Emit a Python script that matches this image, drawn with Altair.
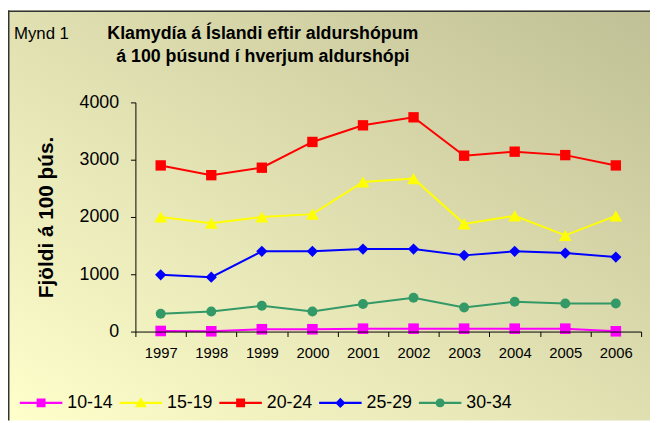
import altair as alt
import pandas as pd

# ---- data ----
years = [1997, 1998, 1999, 2000, 2001, 2002, 2003, 2004, 2005, 2006]
series_names = ["10-14", "15-19", "20-24", "25-29", "30-34"]
v_10_14 = [10, 5, 40, 40, 50, 50, 50, 50, 50, 5]
v_15_19 = [2000, 1890, 2000, 2050, 2610, 2670, 1880, 2020, 1680, 2020]
v_20_24 = [2900, 2730, 2860, 3310, 3600, 3740, 3070, 3140, 3080, 2900]
v_25_29 = [990, 950, 1400, 1400, 1440, 1440, 1330, 1400, 1370, 1300]
v_30_34 = [310, 350, 450, 350, 480, 590, 420, 520, 490, 490]
y_ticks = [0, 1000, 2000, 3000, 4000]

title_line1 = "Klamydía á Íslandi eftir aldurshópum"
title_line2 = "á 100 þúsund í hverjum aldurshópi"
fig_label = "Mynd 1"
y_title = "Fjöldi á 100 þús."

# ---- styles ----
colors = ["#FF00FF", "#FFFF00", "#FF0000", "#0000FF", "#339966"]
marker_shapes = ["square", "triangle-up", "square", "diamond", "circle"]
marker_sizes = [115, 170, 110, 130, 100]
LINE = "M-1,-0.05H1V0.05H-1Z"
legend_paths = [
    LINE + "M-0.21,-0.21H0.21V0.21H-0.21Z",
    LINE + "M0,-0.27L0.28,0.21H-0.28Z",
    LINE + "M-0.21,-0.21H0.21V0.21H-0.21Z",
    LINE + "M-0.24,0L0,-0.24L0.24,0L0,0.24Z",
    LINE + "M-0.21,0A0.21,0.21,0,1,1,0.21,0A0.21,0.21,0,1,1,-0.21,0Z",
]

FONT = "Liberation Sans"
W, H = 512, 232
PAD = {"left": 129, "top": 93, "right": 9, "bottom": 90}

rows = []
for name, vals in zip(series_names, [v_10_14, v_15_19, v_20_24, v_25_29, v_30_34]):
    for yr, v in zip(years, vals):
        rows.append({"year": yr, "series": name, "value": v})
df = pd.DataFrame(rows)
one = pd.DataFrame({"k": [0]})

x_enc = alt.X(
    "year:O",
    bandPosition=0.5,
    scale=alt.Scale(type="band", paddingInner=0, paddingOuter=0),
    axis=alt.Axis(
        title=None, labelAngle=0, tickBand="extent", tickSize=5, labelPadding=9,
        labelFont=FONT, labelFontSize=15, labelColor="black",
        domainColor="black", tickColor="black", grid=False, zindex=1,
    ),
)
y_enc = alt.Y(
    "value:Q",
    scale=alt.Scale(domain=[0, 4000], nice=False),
    axis=alt.Axis(
        values=y_ticks, format="d", title=y_title, grid=False, tickSize=5, labelPadding=12,
        labelFont=FONT, labelFontSize=18, labelColor="black",
        domainColor="black", tickColor="black", zindex=1,
        titleFont=FONT, titleFontSize=21, titleFontWeight="bold", titleColor="black",
        titleAngle=270, titleX=-84, titleY=116, titleAlign="center",
        titleBaseline="alphabetic",
    ),
)
color_scale = alt.Scale(domain=series_names, range=colors)

# background gradient
bg = alt.Chart(one).mark_rect(
    fill=alt.LinearGradient(
        gradient="linear", x1=0, y1=1, x2=1, y2=0,
        stops=[alt.GradientStop(color="#FFFFCC", offset=0),
               alt.GradientStop(color="#C0C096", offset=1)],
    )
).encode(
    x=alt.value(-PAD["left"]), x2=alt.value(W + PAD["right"]),
    y=alt.value(-PAD["top"]), y2=alt.value(H + PAD["bottom"]),
)
frame_left = alt.Chart(one).mark_rule(color="#333333", strokeWidth=1.5).encode(
    x=alt.value(-PAD["left"] + 0.75), y=alt.value(-PAD["top"]), y2=alt.value(H + PAD["bottom"])
)
frame_top = alt.Chart(one).mark_rule(color="#333333", strokeWidth=1.5).encode(
    x=alt.value(-PAD["left"]), x2=alt.value(W + PAD["right"]), y=alt.value(-PAD["top"] + 0.75)
)

leg = dict(
    title=None, orient="none", legendX=-117, legendY=282.5, direction="horizontal",
    columns=5, padding=0, columnPadding=6, labelOffset=5,
    labelFont=FONT, labelFontSize=18, labelColor="black",
    symbolSize=1849, symbolStrokeWidth=0, symbolOpacity=1, zindex=1,
)
# legend-only layer (no rows drawn), first so its legend settings win
legend_layer = alt.Chart(df).transform_filter("false").mark_point(
    filled=True, size=1849, opacity=1, strokeWidth=0
).encode(
    x=x_enc, y=y_enc,
    color=alt.Color("series:N", scale=color_scale, legend=alt.Legend(**leg)),
    shape=alt.Shape("series:N", scale=alt.Scale(domain=series_names, range=legend_paths),
                    legend=alt.Legend(**leg)),
)

lines = alt.Chart(df).mark_line(strokeWidth=2).encode(
    x=x_enc, y=y_enc,
    color=alt.Color("series:N", scale=color_scale, legend=None),
    detail="series:N",
)

point_layers = []
for name, shp, sz in zip(series_names, marker_shapes, marker_sizes):
    point_layers.append(
        alt.Chart(df).transform_filter(alt.datum.series == name)
        .mark_point(filled=True, shape=shp, size=sz, opacity=1, strokeWidth=0)
        .encode(x=x_enc, y=y_enc,
                color=alt.Color("series:N", scale=color_scale, legend=None))
    )

t1 = alt.Chart(one).mark_text(font=FONT, fontSize=18, fontWeight="bold", color="black",
                              align="center", baseline="alphabetic").encode(
    x=alt.value(129), y=alt.value(-64), text=alt.value(title_line1))
t2 = alt.Chart(one).mark_text(font=FONT, fontSize=18, fontWeight="bold", color="black",
                              align="center", baseline="alphabetic").encode(
    x=alt.value(129), y=alt.value(-41), text=alt.value(title_line2))
t3 = alt.Chart(one).mark_text(font=FONT, fontSize=17, color="black",
                              align="left", baseline="alphabetic").encode(
    x=alt.value(-123), y=alt.value(-64), text=alt.value(fig_label))

chart = alt.layer(
    bg, legend_layer, frame_left, frame_top, lines, *point_layers, t1, t2, t3
).properties(
    width=W, height=H,
    autosize=alt.AutoSizeParams(type="none"),
    padding=PAD,
).configure_view(stroke=None).configure(background="white")

chart.save("out.html", embed_options={"renderer": "svg", "actions": False})
